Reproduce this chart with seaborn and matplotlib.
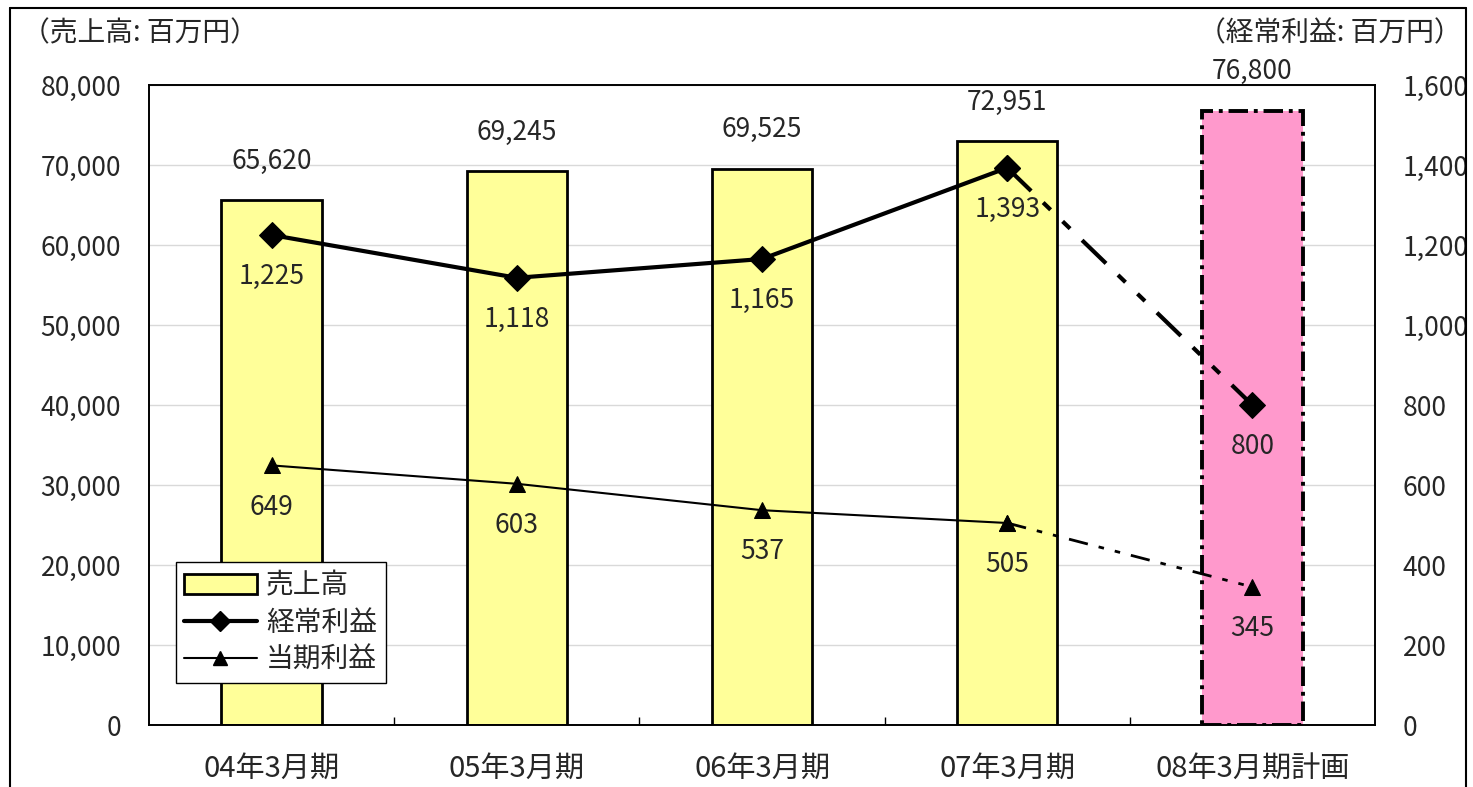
import matplotlib
matplotlib.use("Agg")
import matplotlib.pyplot as plt
import seaborn as sns
from matplotlib.patches import Patch
from matplotlib.lines import Line2D
from matplotlib.ticker import FuncFormatter, FixedLocator

categories = ["04年3月期", "05年3月期", "06年3月期", "07年3月期", "08年3月期計画"]
sales = [65620, 69245, 69525, 72951, 76800]
ordinary_profit = [1225, 1118, 1165, 1393, 800]
net_profit = [649, 603, 537, 505, 345]
bar_colors = ["#FFFF99", "#FFFF99", "#FFFF99", "#FFFF99", "#FF99CC"]
series_names = ["売上高", "経常利益", "当期利益"]
left_unit = "（売上高: 百万円）"
right_unit = "（経常利益: 百万円）"

sns.set_theme(style="white")
plt.rcParams["font.family"] = ["Noto Sans CJK JP", "DejaVu Sans"]

NUM_FS = 19

fig = plt.figure(figsize=(14.73, 7.87), dpi=100)
ax = fig.add_axes([149/1473, 1-725/787, (1375-149)/1473, (725-85)/787])

sns.barplot(x=categories, y=sales, hue=categories, palette=bar_colors, legend=False,
            width=0.41, saturation=1, edgecolor="black", linewidth=2, ax=ax, zorder=2)
last = ax.patches[-1]
last.set_linestyle((0, (5, 1.5, 1, 1.5)))
last.set_linewidth(2.8)

ax.set_xlim(-0.5, 4.5)
ax.set_ylim(0, 80000)
ax.set_yticks(range(0, 80001, 10000))
ax.yaxis.set_major_formatter(FuncFormatter(lambda v, p: f"{int(v):,}"))
ax.grid(axis="y", color="#d9d9d9", linewidth=1)
ax.set_axisbelow(True)
ax.set_xlabel("")
ax.set_ylabel("")
ax.tick_params(axis="y", length=0, pad=20, labelsize=NUM_FS)
ax.tick_params(axis="x", which="major", length=0, pad=21, labelsize=21)
ax.xaxis.set_minor_locator(FixedLocator([0.5, 1.5, 2.5, 3.5]))
ax.tick_params(axis="x", which="minor", direction="in", length=6, width=1, color="black", bottom=True)
for s in ax.spines.values():
    s.set_color("black")
    s.set_linewidth(1.2)

for i, v in enumerate(sales):
    ax.annotate(f"{v:,}", (i, v), xytext=(0, 28), textcoords="offset points",
                ha="center", va="center", fontsize=NUM_FS)

ax2 = ax.twinx()
xs = list(range(len(categories)))
sns.lineplot(x=xs[:4], y=ordinary_profit[:4], ax=ax2, color="black", linewidth=3,
             marker="D", markersize=13, markeredgecolor="black", legend=False, zorder=5)
sns.lineplot(x=xs[3:], y=ordinary_profit[3:], ax=ax2, color="black", linewidth=3,
             linestyle=(0, (8, 4, 2.5, 4, 2.5, 4)), marker="D", markersize=13,
             markeredgecolor="black", legend=False, zorder=5)
sns.lineplot(x=xs[:4], y=net_profit[:4], ax=ax2, color="black", linewidth=1.5,
             marker="^", markersize=11, markeredgecolor="black", legend=False, zorder=5)
sns.lineplot(x=xs[3:], y=net_profit[3:], ax=ax2, color="black", linewidth=2,
             linestyle=(0, (7, 4, 2, 4, 2, 4)), marker="^", markersize=11,
             markeredgecolor="black", legend=False, zorder=5)

ax2.set_ylim(0, 1600)
ax2.set_yticks(range(0, 1601, 200))
ax2.yaxis.set_major_formatter(FuncFormatter(lambda v, p: f"{int(v):,}"))
ax2.set_xlim(-0.5, 4.5)
ax2.set_ylabel("")
ax2.set_xlabel("")
ax2.tick_params(axis="y", length=0, pad=20, labelsize=NUM_FS)
ax2.grid(False)
for s in ax2.spines.values():
    s.set_color("black")
    s.set_linewidth(1.2)

for i, v in enumerate(ordinary_profit):
    ax2.annotate(f"{v:,}", (i, v), xytext=(0, -30), textcoords="offset points",
                 ha="center", va="center", fontsize=NUM_FS)
for i, v in enumerate(net_profit):
    ax2.annotate(f"{v:,}", (i, v), xytext=(0, -30), textcoords="offset points",
                 ha="center", va="center", fontsize=NUM_FS)

handles = [
    Patch(facecolor="#FFFF99", edgecolor="black", linewidth=2),
    Line2D([0], [0], color="black", linewidth=3, marker="D", markersize=10),
    Line2D([0], [0], color="black", linewidth=1.5, marker="^", markersize=10),
]
leg = ax2.legend(handles, series_names, loc="lower left", bbox_to_anchor=(0.022, 0.066),
                 fontsize=20, frameon=True, fancybox=False, handlelength=2.6,
                 borderpad=0.3, labelspacing=0.25, handletextpad=0.35, borderaxespad=0)
leg.get_frame().set_edgecolor("black")
leg.get_frame().set_linewidth(1)
leg.get_frame().set_alpha(1)

fig.text(22/1473, 1-33/787, left_unit, ha="left", va="center", fontsize=20)
fig.text(1462/1473, 1-33/787, right_unit, ha="right", va="center", fontsize=20)

for xy in [([10/1473, 10/1473], [0, 1-8/787]),
           ([10/1473, 1466/1473], [1-8/787, 1-8/787]),
           ([1466/1473, 1466/1473], [0, 1-8/787])]:
    fig.add_artist(Line2D(xy[0], xy[1], color="black", linewidth=1.5, transform=fig.transFigure))

fig.savefig("out.png", dpi=100)
